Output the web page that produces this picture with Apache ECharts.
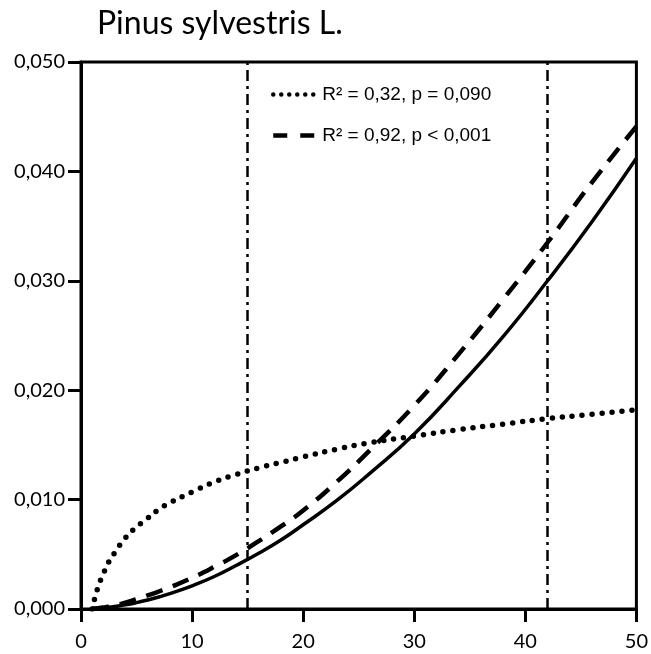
<!DOCTYPE html>
<html style="height: 100%">
<head>
<meta charset="utf-8">
<script src="https://cdn.jsdelivr.net/npm/echarts@6/dist/echarts.min.js"></script>
</head>
<body style="height: 100%; margin: 0; background: #fff">
<div id="container" style="width: 651px; height: 654px"></div>
<script>
// x positions (diameter) shared by all three curves
var xs = [1, 1.5, 2, 2.5, 3, 4, 5, 6, 7, 8, 10, 12, 14, 16, 18, 20, 23, 26, 30, 34, 38, 42, 46, 50];

// dotted curve, R2 = 0,32
var dotted = [0.0000, 0.0019, 0.0032, 0.0043, 0.0051, 0.0065, 0.0075, 0.0083, 0.0091, 0.0097, 0.0107, 0.0116,
              0.0123, 0.0129, 0.0134, 0.0139, 0.0146, 0.0152, 0.0158, 0.0164, 0.0169, 0.0174, 0.0178, 0.0182];

// dashed curve, R2 = 0,92
var dashed = [0.00004, 0.00008, 0.00013, 0.0002, 0.0003, 0.00058, 0.0009, 0.00124, 0.0016, 0.00198, 0.00285, 0.00385,
              0.00495, 0.0062, 0.00755, 0.0090, 0.0116, 0.0145, 0.0186, 0.0233, 0.0283, 0.0335, 0.0390, 0.0441];

// solid curve (no legend entry)
var solid = [0.00003, 0.00006, 0.0001, 0.00016, 0.00023, 0.00038, 0.00058, 0.00082, 0.0011, 0.00141, 0.00212, 0.00297,
             0.0040, 0.0051, 0.0063, 0.0077, 0.0099, 0.0124, 0.0160, 0.0203, 0.0249, 0.0300, 0.0354, 0.0412];

// vertical dash-dot reference lines
var refLines = [15, 42];

var legendNames = ['R\u00b2 = 0,32, p = 0,090', 'R\u00b2 = 0,92, p < 0,001'];

function pairs(ys) {
    return xs.map(function (x, i) { return [x, ys[i]]; });
}

var myChart = echarts.init(document.getElementById('container'));

var axisCommon = {
    axisLine: { show: true, onZero: false, lineStyle: { color: '#000', width: 3 } },
    axisTick: { show: true, length: 13, lineStyle: { color: '#000', width: 3 } },
    splitLine: { show: false },
    axisLabel: { color: '#000', fontFamily: 'Lato', fontSize: 20 }
};

var noSymbol = { opacity: 0, borderWidth: 0 };

var option = {
    animation: false,
    title: {
        text: 'Pinus sylvestris L.',
        left: 92,
        top: 3,
        textStyle: { fontFamily: 'Lato', fontSize: 32, fontWeight: 'normal', color: '#000' }
    },
    legend: {
        left: 266,
        top: 80,
        orient: 'vertical',
        itemWidth: 44,
        itemHeight: 12,
        itemGap: 22,
        textStyle: {
            fontFamily: 'Liberation Sans', fontSize: 19, color: '#000'
        },
        data: [
            { name: legendNames[0], itemStyle: noSymbol, lineStyle: { type: [0, 8], cap: 'round', width: 4.5, color: '#000' } },
            { name: legendNames[1], itemStyle: noSymbol, lineStyle: { type: [14, 13], width: 4.5, color: '#000' } }
        ]
    },
    grid: {
        left: 81, right: 13, top: 62, bottom: 45,
        show: true, borderColor: '#000', borderWidth: 3
    },
    xAxis: Object.assign({
        type: 'value', min: 0, max: 50, interval: 10
    }, axisCommon, { axisLabel: Object.assign({}, axisCommon.axisLabel, { margin: 23 }) }),
    yAxis: Object.assign({
        type: 'value', min: 0, max: 0.05, interval: 0.01
    }, axisCommon, {
        axisLabel: Object.assign({}, axisCommon.axisLabel, {
            margin: 16,
            formatter: function (v) { return v.toFixed(3).replace('.', ','); }
        })
    }),
    series: [
        {
            name: legendNames[0],
            type: 'line',
            smooth: true,
            symbol: 'none',
            data: pairs(dotted),
            lineStyle: { color: '#000', width: 5.5, type: [0, 10], cap: 'round' },
            itemStyle: { color: '#000' }
        },
        {
            name: legendNames[1],
            type: 'line',
            smooth: true,
            symbol: 'none',
            data: pairs(dashed),
            lineStyle: { color: '#000', width: 4.5, type: [17, 11] },
            itemStyle: { color: '#000' }
        },
        {
            name: 'fit',
            type: 'line',
            smooth: true,
            symbol: 'none',
            data: pairs(solid),
            lineStyle: { color: '#000', width: 3.5 },
            itemStyle: { color: '#000' },
            markLine: {
                silent: true,
                symbol: 'none',
                label: { show: false },
                lineStyle: { color: '#000', width: 2.5, type: [11, 5, 3, 5] },
                data: refLines.map(function (v) { return { xAxis: v }; })
            }
        }
    ]
};

myChart.setOption(option);
</script>
</body>
</html>
